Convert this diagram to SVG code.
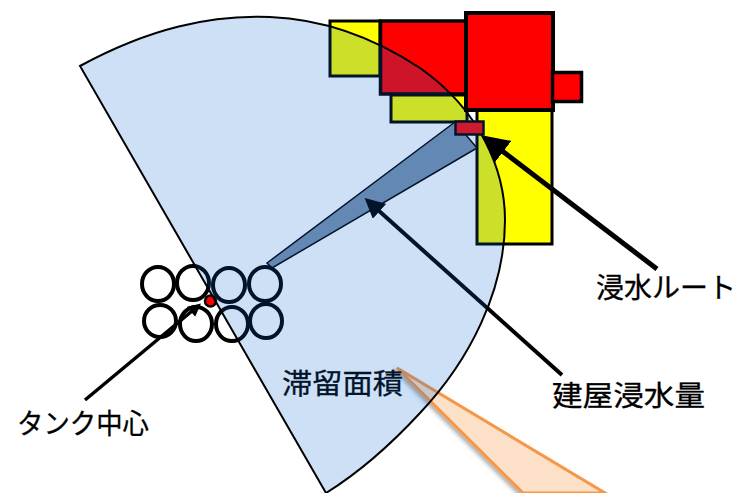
<svg xmlns="http://www.w3.org/2000/svg" width="736" height="493" viewBox="0 0 736 493">
<style>
.r{fill:#f00;stroke:#000;stroke-width:3.5}
.y{fill:#ff0;stroke:#000;stroke-width:3}
.c{fill:none;stroke:#000;stroke-width:4}
.t{font-family:"Noto Sans CJK JP","Noto Sans",sans-serif;font-size:28px;fill:#000;stroke:#000;stroke-width:.3}
</style>
<defs>
<marker id="ah" viewBox="0 0 10 10" refX="1" refY="5" markerUnits="userSpaceOnUse" markerWidth="27" markerHeight="27" orient="auto"><path d="M0 0L10 5L0 10Z" fill="#000"/></marker>
<marker id="am" viewBox="0 0 10 10" refX="1" refY="5" markerUnits="userSpaceOnUse" markerWidth="20" markerHeight="20" orient="auto"><path d="M0 0L10 5L0 10Z" fill="#000"/></marker>
<marker id="as" viewBox="0 0 10 10" refX="1" refY="5" markerUnits="userSpaceOnUse" markerWidth="13" markerHeight="13" orient="auto"><path d="M0 0L10 5L0 10Z" fill="#000"/></marker>
<filter id="sh" x="-20%" y="-20%" width="140%" height="140%"><feDropShadow dx="-2" dy="2" stdDeviation="2" flood-color="#000" flood-opacity=".35"/></filter>
</defs>
<g id="callout"><path d="M397 368L523 493H605Z" fill="#fde0c8" stroke="#f79646" stroke-width="3" filter="url(#sh)"/></g>
<g id="building">
<rect id="b1" class="y" x="330" y="21" width="50" height="55"/>
<rect id="b2" class="y" x="391" y="95" width="76" height="27"/>
<rect id="b3" class="y" x="477" y="109" width="75" height="135"/>
<rect id="b4" class="r" x="380.500" y="21" width="86" height="73"/>
<rect id="b5" class="r" style="stroke-width:4" x="466" y="13" width="87" height="97"/>
<rect id="b6" class="r" x="552.500" y="72.500" width="29" height="29"/>
</g>
<g id="wedge"><path d="M455 122L267 263L272 268L477 148Z" fill="#7c91ae" stroke="#000" stroke-width="1.500"/></g>
<g id="tanks">
<ellipse class="c" cx="158" cy="284" rx="16" ry="17"/>
<ellipse class="c" cx="193" cy="283" rx="16" ry="17"/>
<ellipse class="c" cx="229" cy="285" rx="16" ry="17"/>
<ellipse class="c" cx="265" cy="284" rx="16" ry="17"/>
<ellipse class="c" cx="160" cy="321" rx="16" ry="16"/>
<ellipse class="c" cx="196" cy="324" rx="16" ry="17"/>
<ellipse class="c" cx="232" cy="324" rx="16" ry="17"/>
<ellipse class="c" cx="266" cy="321" rx="16" ry="17"/>
<circle id="center" cx="210.500" cy="301" r="5.500" fill="#f00" stroke="#000" stroke-width="2.500"/>
</g>
<g id="connectors">
<line x1="85" y1="400" x2="192" y2="311" stroke="#000" stroke-width="3.500" marker-end="url(#as)"/>
<line x1="562" y1="375" x2="378" y2="210" stroke="#000" stroke-width="4" marker-end="url(#am)"/>
</g>
<text class="t" id="area" x="282" y="394" textLength="121" lengthAdjust="spacingAndGlyphs">滞留面積</text>
<path id="sector" d="M80 66C150 28 210 15 270 17C320 19 370 35 420 68C480 110 505 170 505 220C505 290 470 360 420 413C395 440 360 472 326 493Z" fill="rgb(5,100,205)" fill-opacity=".2" stroke="#000" stroke-width="2"/>
<rect id="inlet" x="455.500" y="121.500" width="28" height="13" fill="#cc1a30" stroke="#021429" stroke-width="2.500"/>
<g id="route"><line x1="657" y1="269" x2="501" y2="150" stroke="#000" stroke-width="5" marker-end="url(#ah)"/></g>
<text class="t" x="17" y="434" textLength="132" lengthAdjust="spacingAndGlyphs">タンク中心</text>
<text class="t" x="552" y="406" textLength="153" lengthAdjust="spacingAndGlyphs">建屋浸水量</text>
<text class="t" x="596" y="298" textLength="140" lengthAdjust="spacingAndGlyphs">浸水ルート</text>
</svg>
